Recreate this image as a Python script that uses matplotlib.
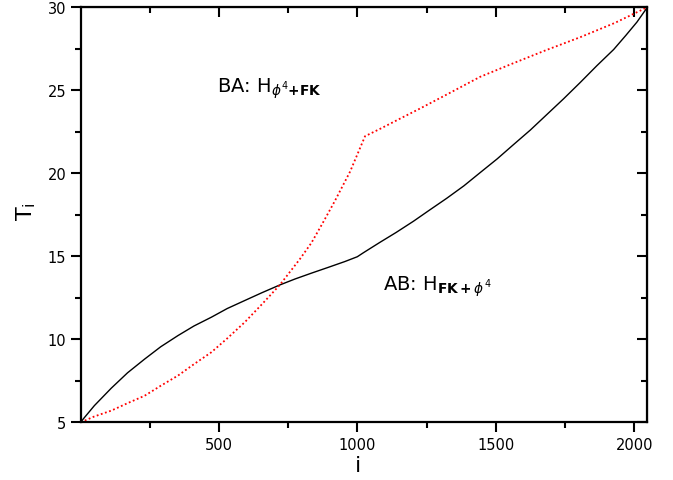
import matplotlib
matplotlib.use("Agg")
import matplotlib.pyplot as plt
from matplotlib.ticker import MultipleLocator

plt.rcParams['font.family'] = ['DejaVu Sans']
plt.rcParams['mathtext.fontset'] = 'dejavusans'

# black curve (AB)
ab_i = [1, 10, 25, 50, 111, 170, 232, 290, 352, 410, 473, 530, 593, 655, 720,
        775, 834, 895, 955, 1000, 1021, 1040, 1082, 1140, 1203, 1260, 1323, 1385,
        1444, 1505, 1564, 1625, 1685, 1745, 1805, 1865, 1926, 1970, 2010, 2048]
ab_t = [5.0, 5.2, 5.5, 6.0, 7.05, 7.98, 8.81, 9.55, 10.22, 10.8, 11.33, 11.85, 12.33, 12.8, 13.27,
        13.63, 13.98, 14.33, 14.68, 14.97, 15.2, 15.4, 15.84, 16.43, 17.11, 17.77, 18.49, 19.24,
        20.04, 20.86, 21.72, 22.6, 23.54, 24.48, 25.46, 26.47, 27.45, 28.3, 29.1, 30.0]

# red dotted curve (BA)
ba_i = [1, 50, 111, 170, 232, 290, 352, 410, 473, 530, 593, 655, 720, 793, 834,
        875, 918, 974, 1028, 1082, 1150, 1227, 1330, 1443, 1560, 1680, 1805, 1930, 2048]
ba_t = [5.0, 5.35, 5.7, 6.15, 6.6, 7.2, 7.81, 8.5, 9.22, 10.05, 11.02, 12.1, 13.27, 14.84, 15.8,
        17.0, 18.3, 20.1, 22.23, 22.67, 23.25, 23.9, 24.8, 25.8, 26.6, 27.4, 28.19, 29.05, 30.0]

fig = plt.figure(figsize=(6.73, 4.81), dpi=100)
ax = fig.add_axes([0.120, 0.120, 0.842, 0.863])

ax.plot(ab_i, ab_t, color='black', linewidth=1.0)
ax.plot(ba_i, ba_t, color='red', linewidth=1.3, linestyle=(0, (1, 1.4)))

ax.set_xlim(1, 2048)
ax.set_ylim(5, 30)
ax.xaxis.set_major_locator(MultipleLocator(500))
ax.xaxis.set_minor_locator(MultipleLocator(250))
ax.yaxis.set_major_locator(MultipleLocator(5))
ax.yaxis.set_minor_locator(MultipleLocator(2.5))

ax.tick_params(which='both', direction='out', top=False, right=False, width=1.5, labelsize=10.5)
ax.tick_params(which='major', length=7)
ax.tick_params(which='minor', length=4)
for s in ax.spines.values():
    s.set_linewidth(1.6)

# inward ticks on top and right
top = ax.secondary_xaxis('top')
top.xaxis.set_major_locator(MultipleLocator(500))
top.xaxis.set_minor_locator(MultipleLocator(250))
top.tick_params(which='both', direction='in', labeltop=False, width=1.5)
top.tick_params(which='major', length=7)
top.tick_params(which='minor', length=4)
right = ax.secondary_yaxis('right')
right.yaxis.set_major_locator(MultipleLocator(5))
right.yaxis.set_minor_locator(MultipleLocator(2.5))
right.tick_params(which='both', direction='in', labelright=False, width=1.5)
right.tick_params(which='major', length=7)
right.tick_params(which='minor', length=4)

ax.set_xlabel('i', fontsize=16)
ax.xaxis.set_label_coords(0.49, -0.08)
ax.set_ylabel(r'T$_\mathrm{i}$', fontsize=16)
ax.yaxis.set_label_coords(-0.076, 0.51)

ax.text(492, 24.9, r'BA: H$_{\phi^{4}\mathbf{+FK}}$', fontsize=14)
ax.text(1091, 12.97, r'AB: H$_{\mathbf{FK+}\phi^{4}}$', fontsize=14)

fig.savefig('out.png', dpi=100)
